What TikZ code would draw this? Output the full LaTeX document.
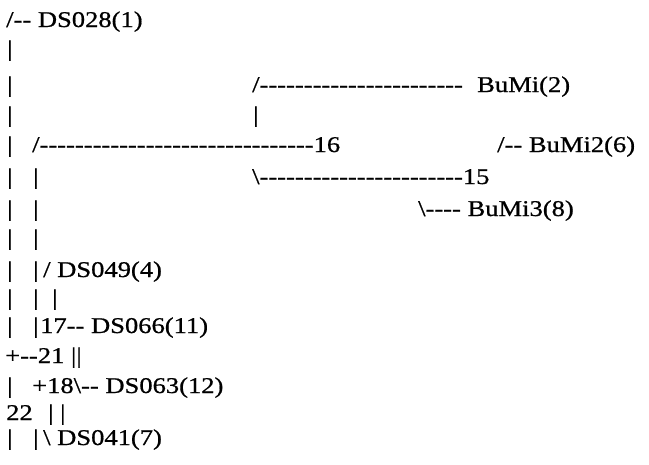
\documentclass[tikz,border=0pt]{standalone}
\usepackage{fontspec}
\newfontfamily\treefont[FakeStretch=1.18,FakeBold=0.8,Ligatures=TeXOff]{Liberation Serif}
\usetikzlibrary{positioning}
\tikzset{txt/.style={anchor=base west, inner sep=0pt, font=\treefont\fontsize{22.5}{24}\selectfont}}

\begin{document}
\begin{tikzpicture}[x=1pt,y=1pt]
  \useasboundingbox (0,0) rectangle (649,-464);
  % left column of bars
  \foreach \y [count=\i] in {56,92,122,152,184,216,245,277,305,333,393,445}
    \node[txt] (barA\i) at (7,-\y) {|};
  \foreach \y [count=\i] in {184,216,245,277,305,333,445}
    \node[txt] (barB\i) at (33,-\y) {|};

  \node[txt] (ds028) at (6,-27) {/-- DS028(1)};
  \node[txt] (up16) at (252,-92) {/-----------------------};
  \node[txt] (bumi) at (477,-92) {BuMi(2)};
  \node[txt] (bar16) at (253,-122) {|};
  \node[txt] (n16) at (32,-152) {/-------------------------------16};
  \node[txt] (bumi2) at (497,-152) {/-- BuMi2(6)};
  \node[txt] (n15) at (252,-184) {\textbackslash-----------------------15};
  \node[txt] (bumi3) at (418,-216) {\textbackslash---- BuMi3(8)};

  \node[txt] (ds049) at (43,-277) {/ DS049(4)};
  \node[txt] (bar17) at (52,-305) {|};
  \node[txt] (n17) at (40,-333) {17-- DS066(11)};
  \node[txt] (n21) at (5,-363) {+--21 ||};
  \node[txt] (n18) at (32,-393) {+18\textbackslash-- DS063(12)};
  \node[txt] (n22) at (6,-420) {22};
  \node[txt] (bar22) at (48,-420) {| |};
  \node[txt] (ds041) at (43,-445) {\textbackslash{} DS041(7)};
\end{tikzpicture}
\end{document}
